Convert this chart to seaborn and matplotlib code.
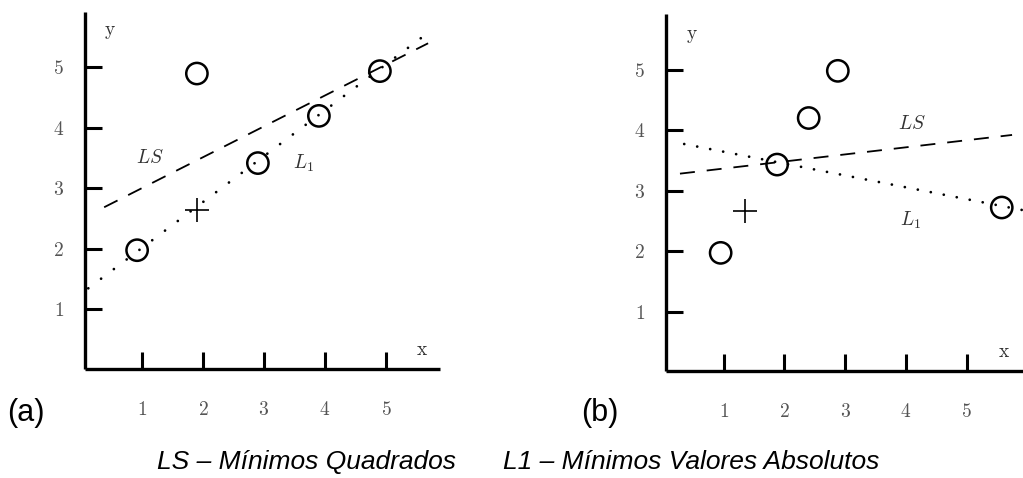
import matplotlib
matplotlib.use("Agg")
import matplotlib.pyplot as plt
import seaborn as sns

sns.set_theme(style="white")
plt.rcParams["mathtext.fontset"] = "cm"
plt.rcParams["font.family"] = ["Liberation Sans", "DejaVu Sans"]

# ---------------- data ----------------
ticks = [1, 2, 3, 4, 5]
tick_labels = ["1", "2", "3", "4", "5"]

# panel (a)
a_circle_x = [0.92, 1.90, 2.90, 3.90, 4.90]
a_circle_y = [1.98, 4.90, 3.42, 4.20, 4.94]
a_cross_x = [1.90]
a_cross_y = [2.64]
a_ls_x = [0.38, 5.69]
a_ls_y = [2.69, 5.40]
a_l1_x = [0.12, 5.75]
a_l1_y = [1.35, 5.62]

# panel (b)
b_circle_x = [0.95, 1.88, 2.40, 2.88, 5.58]
b_circle_y = [1.97, 3.43, 4.20, 4.98, 2.72]
b_cross_x = [1.35]
b_cross_y = [2.67]
b_ls_x = [0.28, 5.75]
b_ls_y = [3.28, 3.92]
b_l1_x = [0.35, 5.91]
b_l1_y = [3.77, 2.68]

W, H = 1023, 478
fig = plt.figure(figsize=(W / 100, H / 100), dpi=100)


def px_axes(left, top, right, bottom):
    return fig.add_axes([left / W, (H - bottom) / H, (right - left) / W, (bottom - top) / H])


def draw_panel(ax, cx, cy, kx, ky, lsx, lsy, l1x, l1y, xlim, ylim,
               ls_pos, l1_pos, y_pos, x_pos, dot_gap):
    ax.set_facecolor("none")
    sns.lineplot(x=lsx, y=lsy, ax=ax, color="black", lw=1.3,
                 linestyle=(0, (8.3, 6.6)), estimator=None, sort=False)
    sns.lineplot(x=l1x, y=l1y, ax=ax, color="black", lw=2.0,
                 linestyle=(0, (0.01, dot_gap)), dash_capstyle="round",
                 estimator=None, sort=False)
    sns.scatterplot(x=cx, y=cy, ax=ax, marker="o", s=235, facecolor="none",
                    edgecolor="black", linewidth=1.8, zorder=5)
    sns.scatterplot(x=kx, y=ky, ax=ax, marker="+", s=280, color="black",
                    linewidth=1.2, zorder=5)
    ax.set_xlim(*xlim)
    ax.set_ylim(*ylim)
    for s in ["top", "right"]:
        ax.spines[s].set_visible(False)
    for s in ["left", "bottom"]:
        ax.spines[s].set_linewidth(2.4)
        ax.spines[s].set_color("black")
        ax.spines[s].set_capstyle("butt")
    ax.set_xticks(ticks)
    ax.set_yticks(ticks)
    ax.set_xticklabels(["$" + t + "$" for t in tick_labels])
    ax.set_yticklabels(["$" + t + "$" for t in tick_labels])
    ax.tick_params(axis="both", which="major", bottom=True, left=True,
                   direction="in", length=12.2, width=2.2,
                   color="black", labelcolor="#555555", labelsize=14)
    ax.tick_params(axis="x", pad=23)
    ax.tick_params(axis="y", pad=15)
    ax.set_xlabel("")
    ax.set_ylabel("")
    ax.text(*ls_pos, r"$LS$", fontsize=14, color="#333333", ha="center", va="center")
    ax.text(*l1_pos, r"$L_1$", fontsize=14, color="#333333", ha="center", va="center")
    ax.text(*y_pos, r"$\mathrm{y}$", fontsize=14, color="#333333", ha="center", va="center")
    ax.text(*x_pos, r"$\mathrm{x}$", fontsize=14, color="#333333", ha="center", va="center")


ax_a = px_axes(85, 12, 440, 369)
draw_panel(ax_a, a_circle_x, a_circle_y, a_cross_x, a_cross_y,
           a_ls_x, a_ls_y, a_l1_x, a_l1_y,
           (0.066, 5.885), (0.0165, 5.917),
           (1.13, 3.50), (3.64, 3.42), (0.48, 5.57), (5.59, 0.33), 5.75)

ax_b = px_axes(666, 14, 1023, 371)
draw_panel(ax_b, b_circle_x, b_circle_y, b_cross_x, b_cross_y,
           b_ls_x, b_ls_y, b_l1_x, b_l1_y,
           (0.05, 5.93), (0.0165, 5.92),
           (4.10, 4.10), (4.07, 2.51), (0.48, 5.54), (5.62, 0.33), 4.75)

fig.text(26 / W, 1 - 413 / H, "(a)", fontsize=22, ha="center", va="center", color="black")
fig.text(600 / W, 1 - 413 / H, "(b)", fontsize=22, ha="center", va="center", color="black")
fig.text(157 / W, 1 - 469 / H, "LS – Mínimos Quadrados", fontsize=19, style="italic",
         ha="left", va="baseline", color="black")
fig.text(503 / W, 1 - 469 / H, "L1 – Mínimos Valores Absolutos", fontsize=19, style="italic",
         ha="left", va="baseline", color="black")

fig.savefig("out.png", dpi=100, facecolor="white")
